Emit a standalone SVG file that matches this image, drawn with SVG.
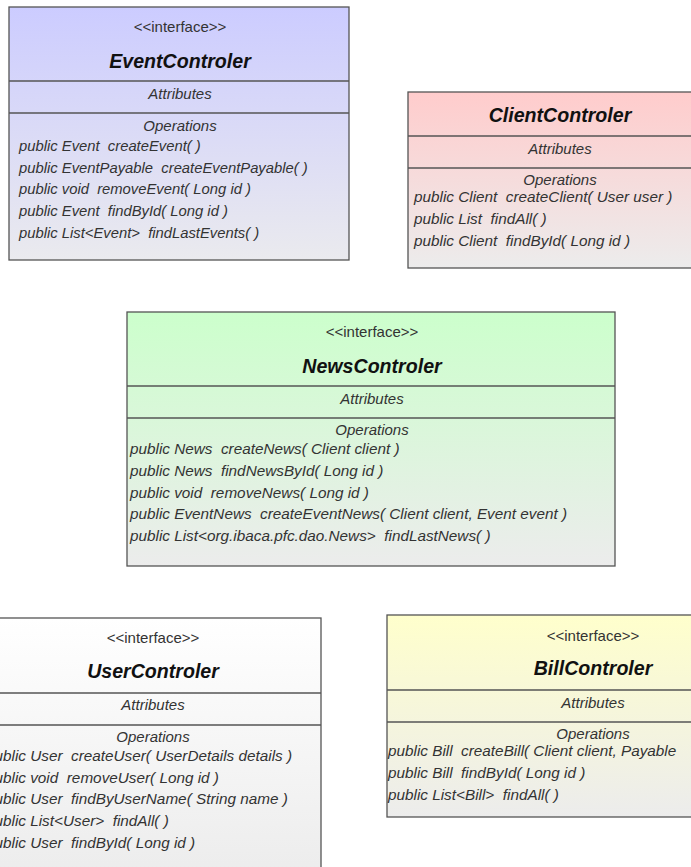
<svg xmlns="http://www.w3.org/2000/svg" width="691" height="867" viewBox="0 0 691 867" xml:space="preserve">
<defs>
<linearGradient id="gBlue" x1="0" y1="0" x2="0" y2="1"><stop offset="0" stop-color="#CCCCFF"/><stop offset="1" stop-color="#EAEAEE"/></linearGradient>
<linearGradient id="gRed" x1="0" y1="0" x2="0" y2="1"><stop offset="0" stop-color="#FFCCCC"/><stop offset="1" stop-color="#ECECEC"/></linearGradient>
<linearGradient id="gGreen" x1="0" y1="0" x2="0" y2="1"><stop offset="0" stop-color="#CCFFCC"/><stop offset="1" stop-color="#ECECEC"/></linearGradient>
<linearGradient id="gWhite" x1="0" y1="0" x2="0" y2="1"><stop offset="0" stop-color="#FFFFFF"/><stop offset="1" stop-color="#ECECEC"/></linearGradient>
<linearGradient id="gYellow" x1="0" y1="0" x2="0" y2="1"><stop offset="0" stop-color="#FFFFCC"/><stop offset="1" stop-color="#ECECEC"/></linearGradient>
</defs>
<style>
.box{stroke:#555555;stroke-width:1.3}
.dv{stroke:#555555;stroke-width:1.3}
text{font-family:"Liberation Sans",Arial,sans-serif;white-space:pre}
.st{font-size:15px;fill:#333333;text-anchor:middle}
.ti{font-size:19.6px;font-weight:bold;font-style:italic;fill:#111111;text-anchor:middle}
.sec{font-size:15px;font-style:italic;fill:#333333;text-anchor:middle}
.op{font-size:15.3px;font-style:italic;fill:#333333}
.opa{font-size:14.8px;font-style:italic;fill:#333333}
</style>
<g id="connectors"/>
<g id="EventControler">
<rect class="box" x="9" y="7" width="340" height="253" fill="url(#gBlue)"/>
<line class="dv" x1="9" y1="81" x2="349" y2="81"/>
<line class="dv" x1="9" y1="113" x2="349" y2="113"/>
<text class="st" x="180" y="32">&lt;&lt;interface&gt;&gt;</text>
<text class="ti" x="180" y="68">EventControler</text>
<text class="sec" x="180" y="99">Attributes</text>
<text class="sec" x="180" y="131">Operations</text>
<text class="opa" x="19" y="151">public Event  createEvent( )</text>
<text class="opa" x="19" y="172.7">public EventPayable  createEventPayable( )</text>
<text class="opa" x="19" y="194.4">public void  removeEvent( Long id )</text>
<text class="opa" x="19" y="216.1">public Event  findById( Long id )</text>
<text class="opa" x="19" y="237.8">public List&lt;Event&gt;  findLastEvents( )</text>
</g>
<g id="ClientControler">
<rect class="box" x="408" y="92" width="304" height="176" fill="url(#gRed)"/>
<line class="dv" x1="408" y1="136" x2="712" y2="136"/>
<line class="dv" x1="408" y1="168" x2="712" y2="168"/>
<text class="ti" x="560" y="122">ClientControler</text>
<text class="sec" x="560" y="154">Attributes</text>
<text class="sec" x="560" y="185">Operations</text>
<text class="op" x="414" y="202">public Client  createClient( User user )</text>
<text class="op" x="414" y="224">public List  findAll( )</text>
<text class="op" x="414" y="246">public Client  findById( Long id )</text>
</g>
<g id="NewsControler">
<rect class="box" x="127" y="312" width="488" height="254" fill="url(#gGreen)"/>
<line class="dv" x1="127" y1="386" x2="615" y2="386"/>
<line class="dv" x1="127" y1="418" x2="615" y2="418"/>
<text class="st" x="372" y="337">&lt;&lt;interface&gt;&gt;</text>
<text class="ti" x="372" y="373">NewsControler</text>
<text class="sec" x="372" y="404">Attributes</text>
<text class="sec" x="372" y="435">Operations</text>
<text class="op" x="130" y="454">public News  createNews( Client client )</text>
<text class="op" x="130" y="475.8">public News  findNewsById( Long id )</text>
<text class="op" x="130" y="497.6">public void  removeNews( Long id )</text>
<text class="op" x="130" y="519.4">public EventNews  createEventNews( Client client, Event event )</text>
<text class="op" x="130" y="541.2">public List&lt;org.ibaca.pfc.dao.News&gt;  findLastNews( )</text>
</g>
<g id="UserControler">
<rect class="box" x="-15" y="618" width="336" height="260" fill="url(#gWhite)"/>
<line class="dv" x1="-15" y1="693" x2="321" y2="693"/>
<line class="dv" x1="-15" y1="725" x2="321" y2="725"/>
<text class="st" x="153" y="643">&lt;&lt;interface&gt;&gt;</text>
<text class="ti" x="153" y="678">UserControler</text>
<text class="sec" x="153" y="710">Attributes</text>
<text class="sec" x="153" y="742">Operations</text>
<text class="op" x="-14" y="761">public User  createUser( UserDetails details )</text>
<text class="op" x="-14" y="782.7">public void  removeUser( Long id )</text>
<text class="op" x="-14" y="804.4">public User  findByUserName( String name )</text>
<text class="op" x="-14" y="826.1">public List&lt;User&gt;  findAll( )</text>
<text class="op" x="-14" y="847.8">public User  findById( Long id )</text>
</g>
<g id="BillControler">
<rect class="box" x="387" y="615" width="412" height="202" fill="url(#gYellow)"/>
<line class="dv" x1="387" y1="690" x2="799" y2="690"/>
<line class="dv" x1="387" y1="722" x2="799" y2="722"/>
<text class="st" x="593" y="641">&lt;&lt;interface&gt;&gt;</text>
<text class="ti" x="593" y="675">BillControler</text>
<text class="sec" x="593" y="708">Attributes</text>
<text class="sec" x="593" y="739">Operations</text>
<text class="op" x="388" y="756">public Bill  createBill( Client client, Payable</text>
<text class="op" x="388" y="778">public Bill  findById( Long id )</text>
<text class="op" x="388" y="800">public List&lt;Bill&gt;  findAll( )</text>
</g>
</svg>
